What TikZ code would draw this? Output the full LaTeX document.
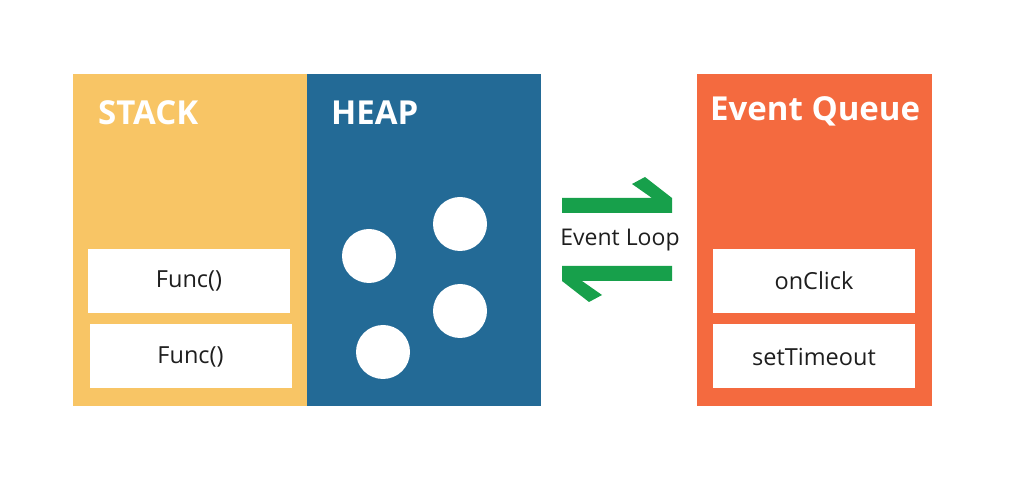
\documentclass[tikz,border=0pt]{standalone}
\usepackage{fontspec}
\setmainfont{Open Sans}
\usepackage{tikz}
\usetikzlibrary{positioning, calc}

\definecolor{stackyellow}{HTML}{F8C565}
\definecolor{heapblue}{HTML}{236A96}
\definecolor{queueorange}{HTML}{F46A3F}
\definecolor{loopgreen}{HTML}{17A04B}
\definecolor{darktext}{HTML}{1E1E1E}

\tikzset{
    panel/.style={rectangle, inner sep=0pt, minimum width=234pt, minimum height=332pt},
    slot/.style={rectangle, fill=white, inner sep=0pt, minimum width=202pt, minimum height=64pt,
        text=darktext, font=\fontsize{23.5}{27}\selectfont},
    title/.style={anchor=base west, inner sep=0pt, text=white, font=\fontsize{33}{40}\selectfont\bfseries},
}

\begin{document}
\begin{tikzpicture}[x=1pt, y=-1pt]
        \useasboundingbox (0,0) rectangle (1010,502);

        % Panels
        \node[panel, fill=stackyellow] (stack) at (190,240) {};
        \node[panel, fill=heapblue] (heap) at (424,240) {};
        \node[panel, fill=queueorange, minimum width=235pt] (queue) at (814.5,240) {};

        % Titles
        \node[title] (stacktitle) at (98,125) {STACK};
        \node[title] (heaptitle) at (331,125) {HEAP};
        \node[title] (queuetitle) at (710,121) {Event Queue};

        % Stack frames
        \node[slot] (func1) at (189,281) {Func()};
        \node[slot] (func2) at (190.5,356.5) {Func()};

        % Queued callbacks
        \node[slot] (click) at (814,281) {onClick};
        \node[slot] (timeout) at (814,356.5) {setTimeout};

        % Objects in the heap
        \foreach \cx/\cy in {369/256, 460/224, 460/311, 383/352}
            \fill[white] (\cx,\cy) circle (27pt);

        % Event loop
        \node[text=darktext, font=\fontsize{23}{26}\selectfont] (loop) at (620,240) {Event Loop};
        \fill[loopgreen] (562,198) -- (652,198) -- (632,184) -- (645,177) -- (672,198)
            -- (672,213) -- (562,213) -- cycle;
        \fill[loopgreen] (672,281) -- (582,281) -- (602,295) -- (589,302) -- (562,281)
            -- (562,266) -- (672,266) -- cycle;
    \end{tikzpicture}
\end{document}
